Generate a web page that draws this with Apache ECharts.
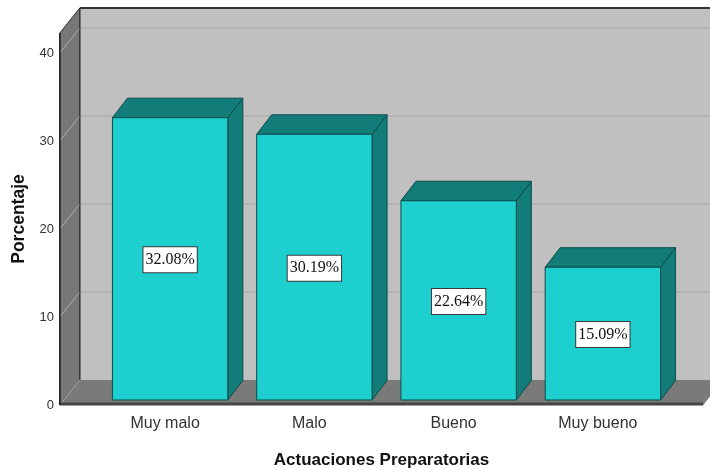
<!DOCTYPE html>
<html>
<head>
<meta charset="utf-8">
<script src="https://cdn.jsdelivr.net/npm/echarts@6/dist/echarts.min.js"></script>
<style>
  html, body { margin: 0; padding: 0; background: #fff; }
  #main { width: 710px; height: 468px; }
</style>
</head>
<body>
<div id="main"></div>
<script>
// datos del grafico
var categorias = ['Muy malo', 'Malo', 'Bueno', 'Muy bueno'];
var porcentajes = [32.08, 30.19, 22.64, 15.09];
var ticksY = [0, 10, 20, 30, 40];
var yMax = 42.27;

var myChart = echarts.init(document.getElementById('main'));

// profundidad 3D (pixeles)
var DX = 20, DY = -25;          // paredes
var BX = 5, BY = -5;            // cara frontal de la barra
var PX = 15, PY = -19.5;        // fondo de la barra
var PAD = 0.23;                 // margen de paredes en bandas

function renderMarco(params, api) {
    var band = api.size([1, 0])[0];
    var p0 = api.coord([0, 0]);
    var pN = api.coord([categorias.length - 1, 0]);
    var left = p0[0] - band * (0.5 + PAD);
    var right = pN[0] + band * (0.5 + PAD);
    var yBottom = p0[1];
    var yTop = api.coord([0, yMax])[1];
    var children = [];
    // pared del fondo
    children.push({
        type: 'rect',
        shape: { x: left + DX, y: yTop + DY, width: right - left, height: yBottom - yTop },
        style: { fill: '#c0c0c0', stroke: null }
    });
    // lineas de cuadricula
    for (var i = 1; i < ticksY.length; i++) {
        var y = api.coord([0, ticksY[i]])[1];
        children.push({
            type: 'line',
            shape: { x1: left + DX, y1: y + DY, x2: right + DX, y2: y + DY },
            style: { stroke: '#b2b2b2', lineWidth: 2 }
        });
    }
    // pared izquierda
    children.push({
        type: 'polygon',
        shape: { points: [[left, yTop], [left + DX, yTop + DY], [left + DX, yBottom + DY], [left, yBottom]] },
        style: { fill: '#777777', stroke: '#2a2a2a', lineWidth: 1 }
    });
    for (var j = 1; j < ticksY.length; j++) {
        var yy = api.coord([0, ticksY[j]])[1];
        children.push({
            type: 'line',
            shape: { x1: left, y1: yy, x2: left + DX, y2: yy + DY },
            style: { stroke: '#ababab', lineWidth: 1 }
        });
    }
    // piso
    children.push({
        type: 'polygon',
        shape: { points: [[left, yBottom], [left + DX, yBottom + DY], [right + DX, yBottom + DY], [right, yBottom]] },
        style: { fill: '#7a7a7a', stroke: null }
    });
    children.push({
        type: 'line',
        shape: { x1: left, y1: yBottom, x2: left + DX, y2: yBottom + DY },
        style: { stroke: '#ababab', lineWidth: 1 }
    });
    // bordes
    children.push({
        type: 'line',
        shape: { x1: left + DX, y1: yTop + DY, x2: right + DX, y2: yTop + DY },
        style: { stroke: '#333333', lineWidth: 2 }
    });
    children.push({
        type: 'line',
        shape: { x1: left + DX, y1: yTop + DY, x2: left + DX, y2: yBottom + DY },
        style: { stroke: '#333333', lineWidth: 1 }
    });
    children.push({
        type: 'line',
        shape: { x1: left, y1: yBottom - 1, x2: right, y2: yBottom - 1 },
        style: { stroke: '#454545', lineWidth: 3 }
    });
    children.push({
        type: 'line',
        shape: { x1: left, y1: yTop, x2: left, y2: yBottom },
        style: { stroke: '#222222', lineWidth: 1.5 }
    });
    return { type: 'group', children: children };
}

function renderBarra(params, api) {
    var band = api.size([1, 0])[0];
    var w = band * 0.8;
    var c = api.coord([api.value(0), api.value(1)]);
    var b = api.coord([api.value(0), 0]);
    var x0 = c[0] + BX - w / 2, x1 = x0 + w;
    var yt = c[1] + BY, yb = b[1] + BY;
    var borde = { stroke: '#0c4c4a', lineWidth: 1 };
    return {
        type: 'group',
        children: [
            {
                type: 'polygon',
                shape: { points: [[x1, yt], [x1 + PX, yt + PY], [x1 + PX, yb + PY], [x1, yb]] },
                style: Object.assign({ fill: '#127c79' }, borde)
            },
            {
                type: 'polygon',
                shape: { points: [[x0, yt], [x0 + PX, yt + PY], [x1 + PX, yt + PY], [x1, yt]] },
                style: Object.assign({ fill: '#127c79' }, borde)
            },
            {
                type: 'rect',
                shape: { x: x0, y: yt, width: w, height: yb - yt },
                style: Object.assign({ fill: '#1dcfcf' }, borde)
            },
            {
                type: 'text',
                x: x0 + w / 2,
                y: (yt + yb) / 2 + 1,
                style: {
                    text: api.value(1).toFixed(2) + '%',
                    fontFamily: '"Liberation Serif", "DejaVu Serif", serif',
                    fontSize: 16,
                    fill: '#111',
                    align: 'center',
                    verticalAlign: 'middle',
                    backgroundColor: '#ffffff',
                    borderColor: '#3a3a3a',
                    borderWidth: 1,
                    padding: [5, 2, 4, 2]
                }
            }
        ]
    };
}

var datosBarras = [];
for (var k = 0; k < categorias.length; k++) {
    datosBarras.push([k, porcentajes[k]]);
}

var option = {
    animation: false,
    grid: { left: 93, right: 40, top: 33, bottom: 63, outerBoundsMode: 'none', containLabel: false },
    xAxis: {
        type: 'category',
        data: categorias,
        name: 'Actuaciones Preparatorias',
        nameLocation: 'middle',
        nameGap: 47,
        nameTextStyle: { fontFamily: '"Liberation Sans", Arial, sans-serif', fontSize: 17, fontWeight: 'bold', color: '#111' },
        axisLine: { show: false },
        axisTick: { show: false },
        axisLabel: { fontFamily: '"Liberation Sans", Arial, sans-serif', fontSize: 16, color: '#333', margin: 11 }
    },
    yAxis: {
        type: 'value',
        min: 0,
        max: yMax,
        interval: 10,
        name: 'Porcentaje',
        nameLocation: 'middle',
        nameRotate: 90,
        nameGap: 64,
        nameTextStyle: { fontFamily: '"Liberation Sans", Arial, sans-serif', fontSize: 17.5, fontWeight: 'bold', color: '#111' },
        axisLine: { show: false },
        axisTick: { show: false },
        splitLine: { show: false },
        axisLabel: {
            showMaxLabel: false,
            margin: 39,
            padding: [9, 0, 0, 0],
            fontFamily: '"Liberation Sans", Arial, sans-serif',
            fontSize: 13,
            color: '#333',
            formatter: function (v) { return ticksY.indexOf(v) >= 0 ? String(v) : ''; }
        }
    },
    series: [
        {
            type: 'custom',
            renderItem: renderMarco,
            data: [[0, 0]],
            z: 1,
            silent: true
        },
        {
            type: 'custom',
            renderItem: renderBarra,
            data: datosBarras,
            encode: { x: 0, y: 1 },
            z: 2
        }
    ]
};
myChart.setOption(option);
</script>
</body>
</html>
